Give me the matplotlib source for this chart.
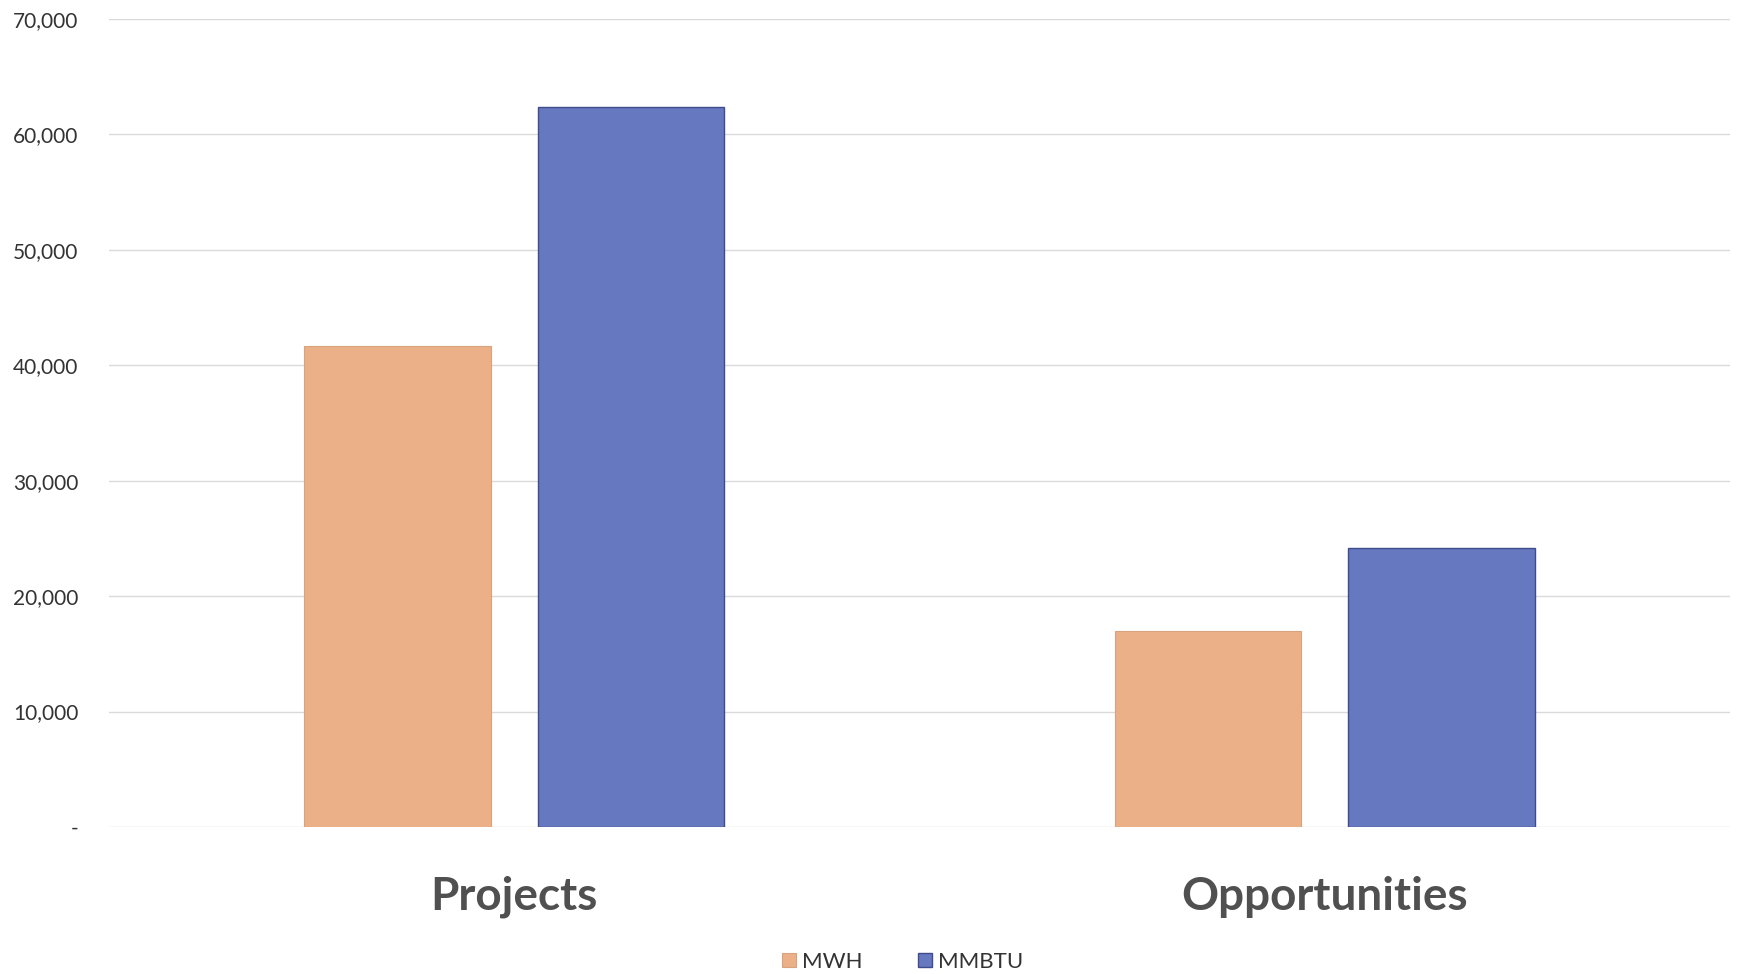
import numpy as np
import matplotlib.pyplot as plt
from matplotlib.ticker import FuncFormatter

categories = ["Projects", "Opportunities"]
mwh = [41700, 17000]
mmbtu = [62400, 24200]
series_names = ["MWH", "MMBTU"]
yticks = [0, 10000, 20000, 30000, 40000, 50000, 60000, 70000]

plt.rcParams['font.family'] = ['Lato', 'DejaVu Sans']

fig = plt.figure(figsize=(17.43, 9.74), dpi=100)
ax = fig.add_axes([0.0625, 0.151, 0.93, 0.8295])

x = np.arange(len(categories))
w = 0.23
off = 0.144
ax.bar(x - off, mwh, w, color="#ECB088", edgecolor="#D9A27E", linewidth=0.8, label=series_names[0], zorder=3)
ax.bar(x + off, mmbtu, w, color="#6678C0", edgecolor="#3E4C8C", linewidth=1.0, label=series_names[1], zorder=3)

ax.set_xlim(-0.5, 1.5)
ax.set_ylim(0, 70000)
ax.set_yticks(yticks)
ax.yaxis.set_major_formatter(FuncFormatter(lambda v, p: "-" if v == 0 else f"{int(v):,}"))
ax.grid(axis="y", color="#DADADA", linewidth=1.0, zorder=0)
for s in ax.spines.values():
    s.set_visible(False)
ax.tick_params(axis="y", length=0, pad=22, labelsize=15, labelcolor="#333333")
ax.set_xticks(x)
ax.set_xticklabels(categories, fontsize=33, fontweight="bold", color="#505050")
ax.tick_params(axis="x", length=0, pad=35)

fig.legend(loc="lower center", bbox_to_anchor=(0.518, -0.018), ncol=2, frameon=False,
           fontsize=16, handlelength=0.6, handleheight=0.6, columnspacing=2.5,
           handletextpad=0.3, labelcolor="#333333")

fig.savefig("out.png", dpi=100)
